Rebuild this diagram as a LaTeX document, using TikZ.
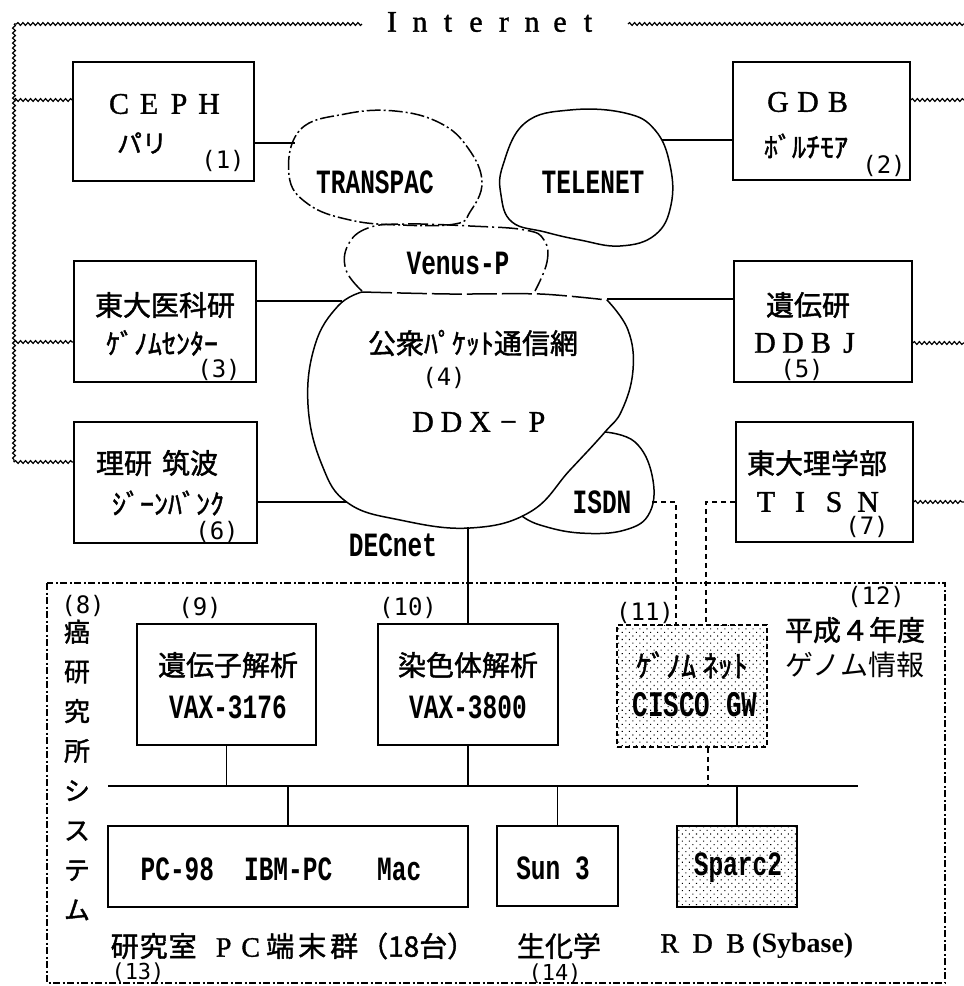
\documentclass[tikz,border=0pt]{standalone}
\usepackage{fontspec}
\setmainfont{Liberation Serif}
\newfontfamily\wser[FakeBold=1.2]{Liberation Serif}
\newfontfamily\jp[FakeBold=1.5]{Noto Sans CJK JP}
\newfontfamily\jpl{Noto Sans CJK JP}
\newfontfamily\cond[FakeStretch=0.72]{Liberation Mono Bold}
\newfontfamily\num{DejaVu Sans Mono}
\usetikzlibrary{decorations.pathmorphing,patterns.meta}
\newlength\fwpitch
\def\fwaux#1{\ifx#1\relax\else\makebox[\fwpitch]{#1}\expandafter\fwaux\fi}
\newcommand\fwtext[2]{\setlength\fwpitch{#1}\fwaux#2\relax}
\tikzset{
 every node/.style={inner sep=0pt},
 box/.style={draw, line width=1.6pt},
 link/.style={line width=1.8pt},
 thin link/.style={line width=1.3pt},
 net/.style={decorate, decoration={snake, amplitude=1.4pt, segment length=5pt}, line width=1.2pt},
 dlink/.style={line width=2pt, dash pattern=on 5pt off 4pt},
 cloud line/.style={line width=1.5pt},
 wide/.style={font=\wser\fontsize{30}{32}\selectfont},
 kj/.style={font=\jp\fontsize{28}{30}\selectfont},
 hk/.style={font=\jp\fontsize{28}{30}\selectfont},
 cd/.style={font=\cond\fontsize{34}{36}\selectfont},
 nm/.style={font=\num\fontsize{24}{26}\selectfont},
 dotfill/.style={pattern={Dots[distance=5pt,radius=0.75pt,angle=45]}, pattern color=black},
 sysframe/.style={line width=1.8pt, dash pattern=on 7pt off 2.5pt on 2pt off 2.5pt},
}
\begin{document}
\begin{tikzpicture}[x=1pt,y=-1pt]
\useasboundingbox (0,0) rectangle (964,986);
% ---------- boxes
\node[box,minimum width=181pt,minimum height=119pt] (ceph) at (163.5,121.5) {};
\node[box,minimum width=177pt,minimum height=118pt] (gdb) at (821.5,121) {};
\node[box,minimum width=182pt,minimum height=121pt] (ims) at (165,321.5) {};
\node[box,minimum width=178pt,minimum height=121pt] (ddbj) at (823,321.5) {};
\node[box,minimum width=183pt,minimum height=121pt] (riken) at (165.5,482.5) {};
\node[box,minimum width=177pt,minimum height=120pt] (tisn) at (824.5,482) {};
\node[box,minimum width=179pt,minimum height=121pt] (vax1) at (226.5,684.5) {};
\node[box,minimum width=180pt,minimum height=121pt] (vax2) at (468,684.5) {};
\node[draw,line width=1.8pt,dash pattern=on 5pt off 3pt,dotfill,minimum width=150pt,minimum height=122pt] (cisco) at (692,686) {};
\node[box,minimum width=360pt,minimum height=81pt] (pc) at (288,866.5) {};
\node[box,minimum width=121pt,minimum height=80pt] (sun) at (557.5,866) {};
\node[box,line width=2.2pt,dotfill,minimum width=120pt,minimum height=81pt] (sparc) at (737,866.5) {};
% ---------- system frame
\draw[sysframe] (47,583) rectangle (945,983);
% ---------- clouds
\draw[cloud line, dash pattern=on 14pt off 3pt on 2pt off 3pt] plot[smooth cycle, tension=0.7] coordinates {(300,130) (345,114) (395,111) (440,123) (468,148) (482,182) (470,212) (455,224) (400,225) (350,220) (308,204) (289,175)};
\draw[cloud line] plot[smooth cycle, tension=0.7] coordinates {(503,165) (525,123) (570,110) (625,113) (655,130) (670,165) (671,205) (655,235) (620,246) (580,240) (545,232) (512,222) (501,195)};
\draw[cloud line, dash pattern=on 20pt off 4pt on 2pt off 4pt] plot[smooth, tension=0.7] coordinates {(362,291) (346,270) (348,245) (368,228) (405,224) (470,226) (525,230) (544,240) (547,262) (535,291)};
\draw[cloud line, dash pattern=on 30pt off 5pt] plot[smooth, tension=0.5] coordinates {(362,292) (450,294) (540,294) (607,300)};
\draw[cloud line] plot[smooth, tension=0.7] coordinates {(607,300) (628,330) (633,370) (622,410) (605,432) (570,470) (530,512) (470,528) (400,520) (348,503) (322,465) (308,405) (315,345) (338,306) (362,292)};
\draw[cloud line] plot[smooth, tension=0.7] coordinates {(605,432) (635,442) (652,475) (650,512) (625,530) (580,533) (540,525) (522,516)};
% ---------- named points on clouds and lines
\coordinate (tpL) at (295,143);
\coordinate (teR) at (662,140);
\coordinate (ddL1) at (342,301);
\coordinate (ddR1) at (607,299);
\coordinate (ddL2) at (347,502);
\coordinate (ddB) at (468,527);
\coordinate (isR) at (652,502);
\coordinate (busL) at (108,786);
\coordinate (busR) at (858,786);
\coordinate (iL) at (362,24);
\coordinate (cTL) at (14,24);
\coordinate (cBL) at (14,462);
\coordinate (b1) at (14,100);
\coordinate (b3) at (14,342);
\coordinate (iR) at (628,24);
\coordinate (cTR) at (964,24);
\coordinate (r1) at (964,100);
\coordinate (r2) at (964,343);
% ---------- Internet
\node[wide] (inet) at (490,22) {\fwtext{28pt}{Internet}};
\draw[net] (iL) -- (cTL);
\draw[net] (cTL) -- (cBL);
\draw[net] (cBL) -- (riken.west |- cBL);
\draw[net] (b1) -- (ceph.west |- b1);
\draw[net] (b3) -- (ims.west |- b3);
\draw[net] (iR) -- (cTR);
\draw[net] (gdb.east |- r1) -- (r1);
\draw[net] (ddbj.east |- r2) -- (r2);
\draw[net] (tisn.east |- isR) -- (isR -| cTR);
% ---------- links
\draw[link] (ceph.east |- tpL) -- (tpL);
\draw[link] (teR) -- (gdb.west |- teR);
\draw[link] (ims.east |- ddL1) -- (ddL1);
\draw[link] (ddR1) -- (ddbj.west |- ddR1);
\draw[link] (riken.east |- ddL2) -- (ddL2);
\draw[thin link] (ddB) -- (vax2.north);
\draw[dlink] (isR) -| ([xshift=-16pt]cisco.north);
\draw[dlink] (tisn.west |- isR) -| ([xshift=14pt]cisco.north);
\draw[dlink] ([xshift=16pt]cisco.south) -- ([xshift=16pt]cisco.south |- busL);
\draw[line width=2.6pt] (busL) -- (busR);
\draw[thin link] (vax1.south) -- (vax1.south |- busL);
\draw[thin link] (vax2.south) -- (vax2.south |- busL);
\draw[thin link] (pc.north |- busL) -- (pc.north);
\draw[thin link] (sun.north |- busL) -- (sun.north);
\draw[thin link] (sparc.north |- busL) -- (sparc.north);
% ---------- box texts
\node[wide] (cephA) at (164,104) {\fwtext{30pt}{CEPH}};
\node[font=\jp\fontsize{25}{27}\selectfont] (cephB) at (142,143) {パリ};
\node[nm] (n1) at (223,161) {(1)};
\node[wide] (gdbA) at (808,102) {\fwtext{30pt}{GDB}};
\node[hk] (gdbB) at (806,146) {ﾎﾞﾙﾁﾓｱ};
\node[nm] (n2) at (884,166) {(2)};
\node[kj] (imsA) at (165,305) {東大医科研};
\node[hk] (imsB) at (162,343) {ｹﾞﾉﾑｾﾝﾀｰ};
\node[nm] (n3) at (219,370) {(3)};
\node[kj] (ddbjA) at (808,305) {遺伝研};
\node[wide] (ddbjB) at (807,343) {\fwtext{28pt}{DDBJ}};
\node[nm] (n5) at (802,370) {(5)};
\node[kj] (rikenA) at (157,463) {理研\hspace{10pt}筑波};
\node[hk] (rikenB) at (168,503) {ｼﾞｰﾝﾊﾞﾝｸ};
\node[nm] (n6) at (217,532) {(6)};
\node[kj] (tisnA) at (817,463) {東大理学部};
\node[wide] (tisnB) at (817,502) {\fwtext{34pt}{TISN}};
\node[nm] (n7) at (867,527) {(7)};
% ---------- cloud texts
\node[cd] (tpT) at (375,182) {TRANSPAC};
\node[cd] (teT) at (593,182) {TELENET};
\node[cd] (vpT) at (458,263) {Venus-P};
\node[hk] (ddxA) at (473,343) {公衆ﾊﾟｹｯﾄ通信網};
\node[nm] (n4) at (444,378) {(4)};
\node[wide] (ddxB) at (480,422) {\fwtext{28.5pt}{DDX−P}};
\node[cd] (isT) at (602,502) {ISDN};
\node[cd] (decT) at (393,545) {DECnet};
% ---------- system texts
\node[font=\jp\fontsize{26}{39.7}\selectfont, align=center] (vsys) at (77,770) {癌\\研\\究\\所\\シ\\ス\\テ\\ム};
\node[nm] (n8) at (83,606) {(8)};
\node[nm] (n9) at (200,608) {(9)};
\node[nm] (n10) at (408,608) {(10)};
\node[nm] (n11) at (645,613) {(11)};
\node[nm] (n12) at (876,597) {(12)};
\node[kj] (hei) at (855,630) {平成４年度};
\node[font=\jpl\fontsize{28}{30}\selectfont] (gjoho) at (855,665) {ゲノム情報};
\node[kj] (vax1A) at (228,665) {遺伝子解析};
\node[cd] (vax1B) at (228,707) {VAX-3176};
\node[kj] (vax2A) at (468,665) {染色体解析};
\node[cd] (vax2B) at (468,707) {VAX-3800};
\node[font=\jp\fontsize{30}{32}\selectfont] (ciscoA) at (692,665) {ｹﾞﾉﾑ ﾈｯﾄ};
\node[font=\cond\fontsize{36}{38}\selectfont] (ciscoB) at (695,705) {CISCO GW};
\node[cd] (pcT) at (281,869) {PC-98\hspace{30pt}IBM-PC\hspace{45pt}Mac};
\node[cd] (sunT) at (553,868) {Sun 3};
\node[cd] (sparcT) at (738,868) {Sparc2};
\node[anchor=west] (lab) at (110,946) {{\jp\fontsize{28}{30}\selectfont\fwtext{29pt}{研究室}}\hspace{13pt}{\wser\fontsize{28}{30}\selectfont\fwtext{27pt}{PC}}{\jp\fontsize{28}{30}\selectfont\fwtext{32pt}{端末群}（18台）}};
\node[font=\num\fontsize{22}{24}\selectfont] (n13) at (138,973) {(13)};
\node[kj] (bio) at (559,946) {生化学};
\node[font=\num\fontsize{22}{24}\selectfont] (n14) at (555,974) {(14)};
\node[anchor=west] (rdb) at (653,946) {{\wser\fontsize{28}{30}\selectfont\fwtext{33pt}{RDB}}{\fontsize{28}{30}\selectfont\bfseries(Sybase)}};
\end{tikzpicture}
\end{document}
